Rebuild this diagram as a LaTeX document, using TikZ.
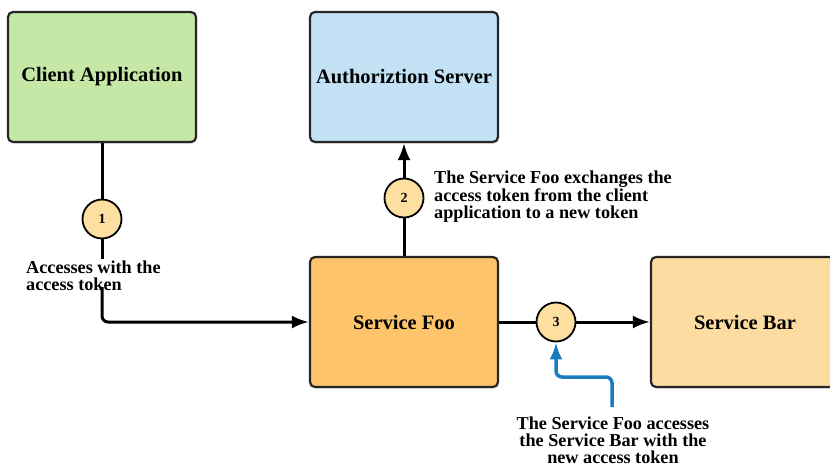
\documentclass[tikz,border=0pt]{standalone}
\usepackage{fontspec}
\setmainfont{Liberation Serif}
\usetikzlibrary{arrows.meta,shadows}
\definecolor{clientgreen}{HTML}{C6E8A6}
\definecolor{authblue}{HTML}{C3E2F6}
\definecolor{fooorange}{HTML}{FDC46B}
\definecolor{barorange}{HTML}{FDDCA2}
\definecolor{badgefill}{HTML}{FEDFA2}
\definecolor{pointblue}{HTML}{1C7BC0}
\tikzstyle{service}=[rectangle, draw=black!85, line width=2.2pt, rounded corners=5pt,
    minimum width=188pt, minimum height=130pt, inner sep=0pt,
    font=\fontsize{20.5}{22}\selectfont\bfseries,
    drop shadow={shadow xshift=1pt, shadow yshift=-1.5pt, opacity=0.25}]
\newcommand{\service}{\node[service]}
\tikzstyle{badge}=[circle, draw, line width=1.8pt, fill=badgefill, inner sep=0pt,
    minimum size=39pt, font=\fontsize{14}{14}\selectfont\bfseries]
\newcommand{\badge}{\node[badge]}
\tikzstyle{note}=[inner sep=0pt, font=\fontsize{18.2}{16.8}\selectfont\bfseries]

\begin{document}
\begin{tikzpicture}[x=1pt, y=-1pt
    ,line/.style={draw, line width=3pt}
    ,flow/.style={line, -{Latex[length=17pt, width=13pt]}}
    ,every edge/.style={flow}
]
\useasboundingbox (0,0) rectangle (830,469);
\service[fill=clientgreen] (client) at (102,77) {Client Application};
\service[fill=authblue] (auth) at (404,77) {Authoriztion Server};
\service[fill=fooorange] (foo) at (404,322) {Service Foo};
\service[fill=barorange] (bar) at (745,322) {Service Bar};
\badge (b1) at (102,219) {1};
\badge (b2) at (404,198) {2};
\badge (b3) at (556,322) {3};
\node[note, anchor=north west, align=left] (n1) at (26,261)
    {Accesses with the\\access token};
\node[note, anchor=north west, align=left] (n2) at (434,171)
    {The Service Foo exchanges the\\access token from the client\\application to a new token};
\node[note, anchor=north, align=center] (n3) at (613,417)
    {The Service Foo accesses\\the Service Bar with the\\new access token};
\coordinate (tail) at (612,407);
\coordinate (bend) at (556,377);
% step 1
\draw[line] (client) -- (b1);
\draw[line] (b1) -- ([yshift=2pt]b1 |- n1.north);
\draw[flow, rounded corners=6pt] ([yshift=4pt]b1 |- n1.south) |- (foo.west);
% step 2
\draw[line] (foo) -- (b2);
\path (b2) edge (auth);
% step 3
\draw[line] (foo) -- (b3);
\path (b3) edge (bar);
\draw[flow, pointblue, line width=3.5pt, rounded corners=6pt] (tail) |- (bend) -- (b3);
\end{tikzpicture}
\end{document}
